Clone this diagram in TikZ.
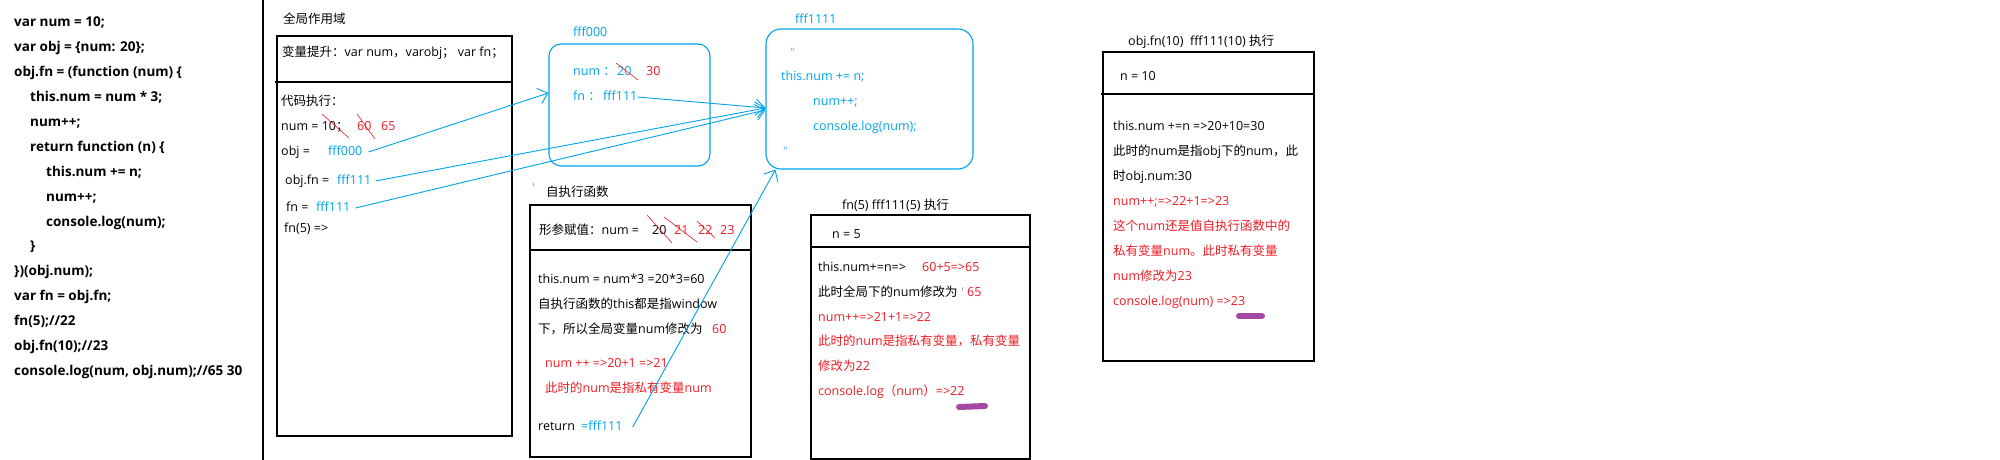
\documentclass[tikz,border=0pt]{standalone}
\usepackage{fontspec}
\setmainfont{Open Sans}
\newfontfamily\cjk{Noto Sans CJK SC}
\XeTeXinterchartokenstate=1
\newXeTeXintercharclass\cjkcls
\newcount\cjkc
\cjkc="3000 \loop \XeTeXcharclass\cjkc=\cjkcls \advance\cjkc 1 \ifnum\cjkc<"A000 \repeat
\cjkc="FF00 \loop \XeTeXcharclass\cjkc=\cjkcls \advance\cjkc 1 \ifnum\cjkc<"FF70 \repeat
\XeTeXinterchartoks 0 \cjkcls = {\cjk}
\XeTeXinterchartoks 4095 \cjkcls = {\cjk}
\XeTeXinterchartoks \cjkcls 0 = {\rmfamily}
\XeTeXinterchartoks \cjkcls 4095 = {\rmfamily}
\usetikzlibrary{arrows.meta}
\definecolor{hblue}{HTML}{00A2E8}
\definecolor{hred}{HTML}{ED1C24}
\definecolor{hpurple}{HTML}{A349A4}
\begin{document}
\begin{tikzpicture}[x=1pt, y=-1pt, txt/.style={anchor=west, inner sep=0pt, text height=10pt, text depth=3pt, font=\fontsize{12.5}{15}\selectfont}, code/.style={txt, font=\fontsize{13.5}{15}\selectfont\bfseries}, blu/.style={txt, text=hblue}, rd/.style={txt, text=hred}, scopebox/.style={draw, line width=1.2pt}, heap/.style={draw=hblue, line width=1.1pt, rounded corners=12pt}, link/.style={draw=hblue, line width=0.9pt, -{Straight Barb[length=9pt,width=16pt]}}, strike/.style={draw=hred, line width=0.6pt}, smudge/.style={draw=hpurple, line width=6pt, line cap=round}]
	\useasboundingbox (0,0) rectangle (2000,460);
	\foreach \i/\x/\s in {1/14/{var num = 10;}, 2/14/{var obj = \{num: 20\};}, 3/14/{obj.fn = (function (num) \{}, 4/30/{this.num = num * 3;}, 5/30/{num++;}, 6/30/{return function (n) \{}, 7/46/{this.num += n;}, 8/46/{num++;}, 9/46/{console.log(num);}, 10/30/{\}}, 11/14/{\})(obj.num);}, 12/14/{var fn = obj.fn;}, 13/14/{fn(5);//22}, 14/14/{obj.fn(10);//23}, 15/14/{console.log(num, obj.num);//65 30}} {\node[code] (code\i) at (\x,{23.3+24.9*(\i-1)}) {\s};}
	\draw[line width=1.3pt] (263,0) -- (263,460);
	% global scope
	\node[txt] (gtitle) at (283,20) {全局作用域};
	\node[scopebox, minimum width=235, minimum height=400] (gbox) at (394.5,236) {};
	\draw[line width=1.2pt] (275,82) -- (512,82);
	\node[txt] (ghoist) at (282,53) {变量提升：var num，varobj； var fn；};
	\node[txt] (grun) at (281,102) {代码执行：};
	\node[txt] (gnum) at (281,127) {num = 10；};
	\node[rd] (g60) at (357,127) {60};
	\node[rd] (g65) at (381,127) {65};
	\node[txt] (gobj) at (281,152) {obj =};
	\node[blu] (gobjv) at (328,152) {fff000};
	\node[txt] (gfn1) at (285,181) {obj.fn =};
	\node[blu] (gfnv1) at (337,181) {fff111};
	\node[txt] (gfn2) at (286,208) {fn =};
	\node[blu] (gfnv2) at (316,208) {fff111};
	\node[txt] (gcall) at (284,229) {fn(5) =>};
	\draw[strike] (322,114) -- (349,138);
	\draw[strike] (357,114) -- (375,139);
	% heap objects
	\node[blu] (h0title) at (573,33) {fff000};
	\node[heap, minimum width=161, minimum height=122] (heap0) at (629.5,105) {};
	\node[blu] (h0num) at (573,72) {num ：};
	\node[blu] (h0v20) at (617,72) {20};
	\node[rd] (h0v30) at (646,72) {30};
	\node[blu] (h0fn) at (573,97) {fn ：};
	\node[blu] (h0fnv) at (603,97) {fff111};
	\draw[strike] (616,63) -- (638,80);
	\node[blu] (h1title) at (795,20) {fff1111};
	\node[heap, rounded corners=15pt, minimum width=207, minimum height=140] (heap1) at (869.5,99) {};
	\node[blu, font=\fontsize{7}{8}\selectfont] (h1q1) at (789,49) {〃};
	\node[blu] (h1l1) at (781,77) {this.num += n;};
	\node[blu] (h1l2) at (813,102) {num++;};
	\node[blu] (h1l3) at (813,127) {console.log(num);};
	\node[blu, font=\fontsize{7}{8}\selectfont] (h1q2) at (782,148) {〃};
	% self-invoking function
	\node[txt] (stitle) at (546,193) {自执行函数};
	\draw[hblue, line width=0.6pt] (533,183) -- (534,186);
	\node[scopebox, minimum width=221, minimum height=252] (sbox) at (640.5,331) {};
	\draw[line width=1.2pt] (530,250) -- (751,250);
	\node[txt] (sarg) at (539,231) {形参赋值：num =};
	\node[txt] (s20) at (652,231) {20};
	\node[rd] (s21) at (674,231) {21};
	\node[rd] (s22) at (698,231) {22};
	\node[rd] (s23) at (720,231) {23};
	\draw[strike] (647,215) -- (672,243);
	\draw[strike] (664,217) -- (697,242);
	\draw[strike] (697,221) -- (715,238);
	\node[txt] (s1) at (538,280) {this.num = num*3 =20*3=60};
	\node[txt] (s2) at (538,305) {自执行函数的this都是指window};
	\node[txt] (s3) at (538,330) {下，所以全局变量num修改为};
	\node[rd] (s3v) at (712,330) {60};
	\node[rd] (s4) at (545,364) {num ++ =>20+1 =>21};
	\node[rd] (s5) at (545,389) {此时的num是指私有变量num};
	\node[txt] (sret) at (538,427) {return};
	\node[blu] (sretv) at (581,427) {=fff111};
	% fn(5)
	\node[txt] (atitle) at (842,206) {fn(5) fff111(5) 执行};
	\node[scopebox, minimum width=219, minimum height=244] (abox) at (920.5,337) {};
	\draw[line width=1.2pt] (811,247) -- (1030,247);
	\node[txt] (aarg) at (832,235) {n = 5};
	\node[txt] (a1) at (818,268) {this.num+=n=>};
	\node[rd] (a1v) at (922,268) {60+5=>65};
	\node[txt] (a2) at (818,293) {此时全局下的num修改为};
	\draw[line width=0.6pt, gray] (963,287) -- (962,291);
	\node[rd] (a2v) at (967,293) {65};
	\foreach \i/\s in {3/{num++=>21+1=>22}, 4/{此时的num是指私有变量，私有变量}, 5/{修改为22}, 6/{console.log（num）=>22}} {\node[rd] (a\i) at (818,{268+24.8*(\i-1)}) {\s};}
	\draw[smudge] (959,407) -- (985,406);
	% obj.fn(10)
	\node[txt] (btitle) at (1128,42) {obj.fn(10)\ \ fff111(10) 执行};
	\node[scopebox, minimum width=211, minimum height=309] (bbox) at (1208.5,206.5) {};
	\draw[line width=1.2pt] (1101,94) -- (1314,94);
	\node[txt] (barg) at (1120,77) {n = 10};
	\foreach \i/\s in {1/{this.num +=n =>20+10=30}, 2/{此时的num是指obj下的num，此}, 3/{时obj.num:30}} {\node[txt] (b\i) at (1113,{102+25*\i}) {\s};}
	\foreach \i/\s in {4/{num++;=>22+1=>23}, 5/{这个num还是值自执行函数中的}, 6/{私有变量num。此时私有变量}, 7/{num修改为23}, 8/{console.log(num) =>23}} {\node[rd] (b\i) at (1113,{102+25*\i}) {\s};}
	\draw[smudge] (1239,316) -- (1262,316);
	% references
	\draw[link] ([xshift=6pt]gobjv.east) -- ([yshift=12pt]heap0.west);
	\draw[link] ([xshift=4pt]gfnv1.east) -- ([yshift=-9pt]heap1.west);
	\draw[link] ([xshift=5pt]gfnv2.east) -- ([yshift=-11pt]heap1.west);
	\draw[link] (h0fnv.east) -- ([yshift=-9pt]heap1.west);
	\draw[link] ([xshift=10pt]sretv.east) -- ([xshift=10pt]heap1.south west);
\end{tikzpicture}
\end{document}
